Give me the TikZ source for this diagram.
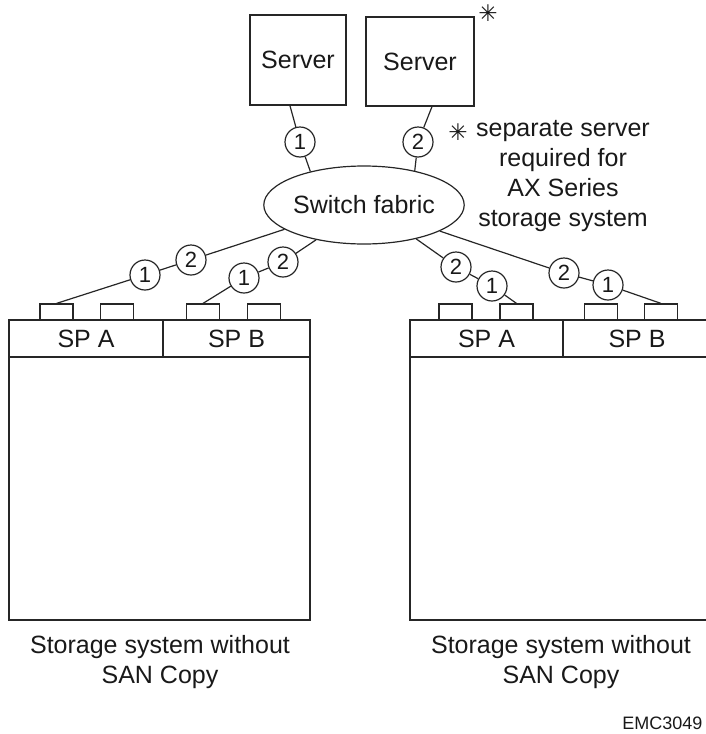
\documentclass[tikz,border=0pt]{standalone}
\usepackage{fontspec}
\setmainfont{Liberation Sans}
\newfontfamily\symfont{DejaVu Sans}
\usetikzlibrary{shapes.geometric,calc}
\begin{document}
\begin{tikzpicture}[x=1pt,y=-1pt,
  line width=1.2pt, draw=black!85,
  every node/.style={font=\fontsize{25}{30}\selectfont, text=black!90},
  server/.style={draw, minimum width=96pt, minimum height=90pt, inner sep=0pt},
  port/.style={draw, fill=white, minimum width=33pt, minimum height=16pt, inner sep=0pt},
  spbox/.style={draw, minimum height=37pt, inner sep=0pt},
  body/.style={draw, minimum width=301pt, minimum height=263pt, inner sep=0pt},
  num/.style={draw, circle, fill=white, minimum size=30pt, inner sep=0pt, font=\fontsize{22}{22}\selectfont},
  star/.style={font=\symfont\bfseries\fontsize{23}{23}\selectfont, inner sep=0pt},
  caption/.style={align=center, inner sep=0pt}]
\useasboundingbox (0,0) rectangle (706,734);
\clip (0,0) rectangle (706,734);

% servers and switch
\node[server] (srv1) at (298,60) {Server};
\node[server, minimum width=108pt, minimum height=89pt] (srv2) at (420,61.5) {Server};
\node[draw, ellipse, minimum width=190pt, minimum height=78pt, inner sep=0pt] (sw) at (364,205) {Switch fabric};
\coordinate (srv1p) at ($(srv1.south west)!0.417!(srv1.south east)$);
\coordinate (srv2p) at ($(srv2.south west)!0.61!(srv2.south east)$);

% footnote
\node[star] (st1) at (488,13) {✳};
\node[star] (st2) at (458,132) {✳};
\node[caption] (note) at (563,176) {separate server\\required for\\AX Series\\storage system};

% left storage system
\node[spbox, minimum width=154pt] (lspa) at (86,338.5) {SP A};
\node[spbox, minimum width=147pt] (lspb) at (236.5,338.5) {SP B};
\node[body] (lbody) at (159.5,488.5) {};
\node[port] (lp1) at (56.5,312) {};
\node[port] (lp2) at (117,312) {};
\node[port] (lp3) at (203,312) {};
\node[port] (lp4) at (264,312) {};
\node[caption] (llab) at (160,662) {Storage system without\\SAN Copy};

% right storage system
\node[spbox, minimum width=153pt] (rspa) at (486.5,338.5) {SP A};
\node[spbox, minimum width=148pt] (rspb) at (637,338.5) {SP B};
\node[body] (rbody) at (560.5,488.5) {};
\node[port] (rp1) at (455.5,312) {};
\node[port] (rp2) at (516.5,312) {};
\node[port] (rp3) at (601,312) {};
\node[port] (rp4) at (661,312) {};
\node[caption] (rlab) at (561,662) {Storage system without\\SAN Copy};

\node[anchor=east, inner sep=0pt, font=\fontsize{18}{18}\selectfont] (code) at (703,723) {EMC3049};

% path numbers
\node[num] (n1) at (300,142) {1};
\node[num] (n2) at (418,142) {2};
\node[num] (a2) at (191,260) {2};
\node[num] (a1) at (145,275) {1};
\node[num] (b2) at (283,262) {2};
\node[num] (b1) at (244,278) {1};
\node[num] (c2) at (456,267) {2};
\node[num] (c1) at (492,286) {1};
\node[num] (d2) at (564,273) {2};
\node[num] (d1) at (608,285) {1};

% connections
\draw (srv1p) -- (n1) -- (sw.148);
\draw (srv2p) -- (n2) -- (sw.34);
\draw (sw.197) -- (a2) -- (a1) -- (lp1.north);
\draw (sw.216) -- (b2) -- (b1) -- (lp3.north);
\draw (sw.327) -- (c2) -- (c1) -- (rp2.north);
\draw (sw.341) -- (d2) -- (d1) -- (rp4.north);
\end{tikzpicture}
\end{document}
